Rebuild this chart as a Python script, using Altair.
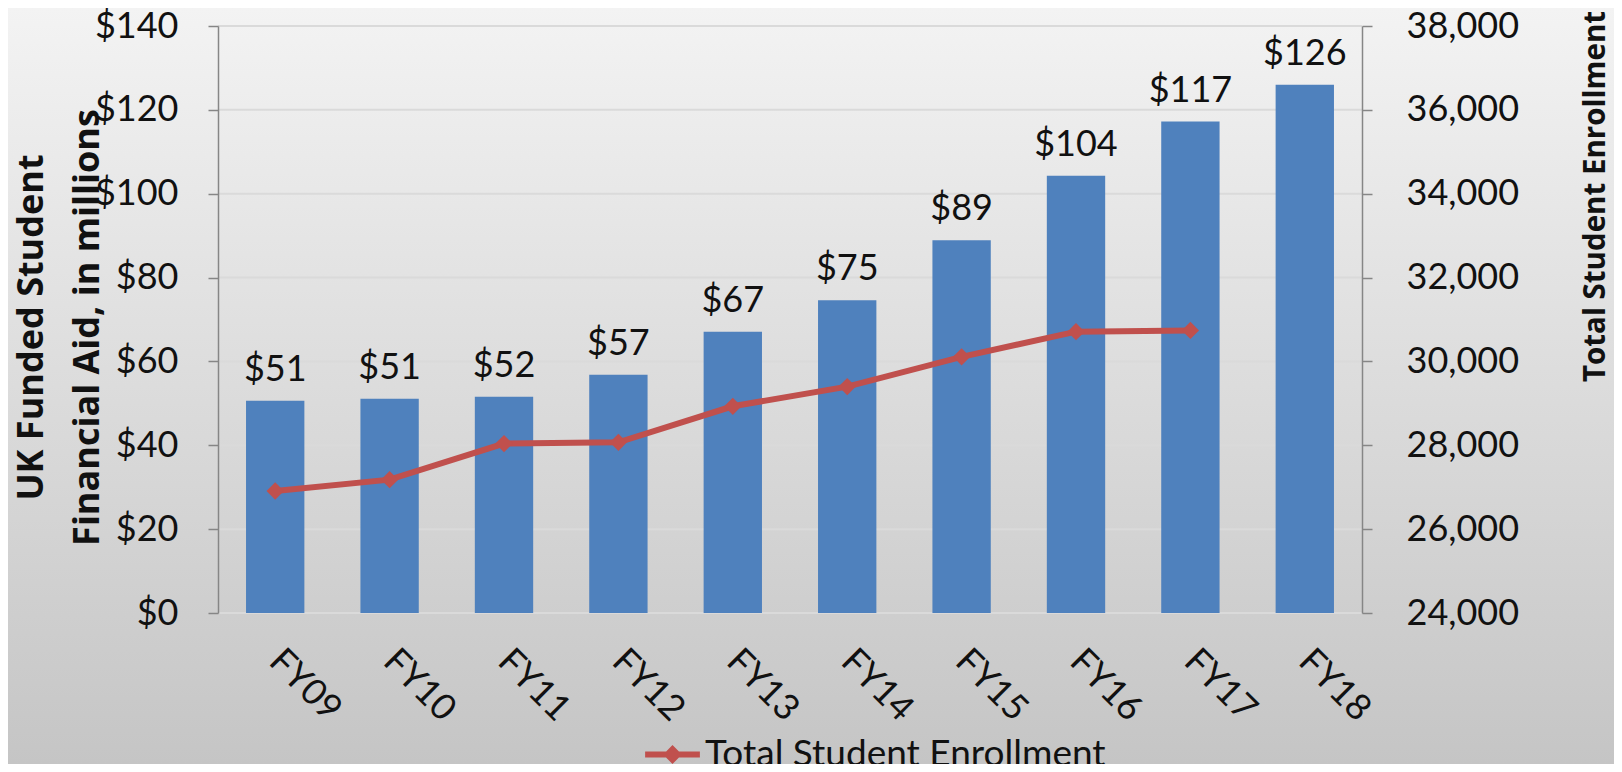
import altair as alt
import pandas as pd

years = ["FY09", "FY10", "FY11", "FY12", "FY13", "FY14", "FY15", "FY16", "FY17", "FY18"]
aid = [50.6, 51.1, 51.6, 56.8, 67.1, 74.6, 88.9, 104.3, 117.2, 126.0]
aid_labels = ["$51", "$51", "$52", "$57", "$67", "$75", "$89", "$104", "$117", "$126"]
enroll = [26910, 27180, 28040, 28070, 28930, 29400, 30110, 30710, 30740, None]
aid_ticks = [0, 20, 40, 60, 80, 100, 120, 140]
enroll_ticks = [24000, 26000, 28000, 30000, 32000, 34000, 36000, 38000]

W, H = 1144, 587
PL, PT, PR, PB = 210, 18, 252, 151

df = pd.DataFrame({"year": years, "aid": aid, "label": aid_labels, "enroll": enroll})
line_df = df.dropna(subset=["enroll"]).copy()
line_df["series"] = "Total Student Enrollment"
grid_df = pd.DataFrame({"aid": aid_ticks})

LABEL_FONT = "Lato"
TITLE_FONT = "Open Sans"
TXT = "#111111"
AX = "#868686"

xscale = alt.Scale(domain=years, paddingInner=0.49, paddingOuter=0.245)
xaxis = alt.Axis(title=None, labelAngle=45, labelAlign="left", labelBaseline="top",
                 labelFont=LABEL_FONT, labelFontSize=36, labelColor=TXT,
                 labelPadding=30, labelOffset=12, ticks=False, domain=False, grid=False,
                 zindex=2)

bg = alt.Chart(pd.DataFrame({"k": [0]})).mark_rect(
    color=alt.Gradient(gradient="linear",
                       stops=[alt.GradientStop(color="#f3f3f3", offset=0),
                              alt.GradientStop(color="#c5c5c5", offset=1)],
                       x1=0, x2=0, y1=0, y2=1)
).encode(x=alt.value(-PL), x2=alt.value(W + PR), y=alt.value(-PT), y2=alt.value(H + PB))

grid = alt.Chart(grid_df).mark_rule(color="#dadada", strokeWidth=2).encode(
    y=alt.Y("aid:Q"),
    x=alt.value(0), x2=alt.value(W),
)

base = alt.Chart(df)

bars = base.mark_bar(color="#4f81bd").encode(
    x=alt.X("year:N", scale=xscale, axis=xaxis, sort=years),
    y=alt.Y("aid:Q", scale=alt.Scale(domain=[0, 140], nice=False),
            axis=alt.Axis(orient="left", values=aid_ticks,
                          labelExpr="'$' + datum.value",
                          labelFont=LABEL_FONT, labelFontSize=36, labelColor=TXT,
                          labelPadding=30, tickSize=10, tickColor=AX,
                          domainColor=AX, domainWidth=1.5, tickWidth=1.5, grid=False,
                          title=["UK Funded Student", "Financial Aid, in millions"],
                          titleFont=TITLE_FONT, titleFontSize=36, titleFontWeight="bold",
                          titleColor=TXT, titleAngle=270, titleAlign="center",
                          titleBaseline="middle", titleLineHeight=56,
                          titleX=-187, titleY=301, zindex=2)),
)

labels = base.mark_text(font=LABEL_FONT, fontSize=36, color=TXT, baseline="bottom", dy=-12).encode(
    x=alt.X("year:N", scale=xscale, sort=years),
    y=alt.Y("aid:Q"),
    text="label:N",
)

left = alt.layer(grid, bars, labels)

line = alt.Chart(line_df).mark_line(
    color="#c0504d", strokeWidth=6,
    point=alt.OverlayMarkDef(shape="diamond", size=300, color="#c0504d", filled=True, opacity=1),
).encode(
    x=alt.X("year:N", scale=xscale, sort=years),
    y=alt.Y("enroll:Q", scale=alt.Scale(domain=[24000, 38000], nice=False),
            axis=alt.Axis(orient="right", values=enroll_ticks, format=",.0f",
                          labelFont=LABEL_FONT, labelFontSize=36, labelColor=TXT,
                          labelPadding=34, tickSize=10, tickColor=AX,
                          domainColor=AX, domainWidth=1.5, tickWidth=1.5, grid=False,
                          title="Total Student Enrollment",
                          titleFont=TITLE_FONT, titleFontSize=29.5, titleFontWeight="bold",
                          titleColor=TXT, titleAngle=270, titleAlign="center",
                          titleBaseline="middle", titleX=233, titleY=170, zindex=2)),
    color=alt.Color("series:N", scale=alt.Scale(range=["#c0504d"]),
                    legend=alt.Legend(title=None, orient="none", legendX=424, legendY=698,
                                      symbolType="M-1,0L1,0M-0.19,0L0,-0.19L0.19,0L0,0.19Z",
                                      symbolSize=3000, symbolStrokeWidth=6,
                                      symbolFillColor="#c0504d", symbolStrokeColor="#c0504d",
                                      labelFont=LABEL_FONT, labelFontSize=37, labelColor=TXT,
                                      labelOffset=2, labelLimit=600, zindex=2)),
)

chart = alt.layer(bg, left, line).resolve_scale(y="independent").properties(
    width=W, height=H,
    autosize=alt.AutoSizeParams(type="none"),
    padding={"left": PL, "top": PT, "right": PR, "bottom": PB},
    background="#c8c8c8",
).configure_view(stroke=None)

chart.save("out.html", embed_options={"renderer": "svg", "actions": False})
